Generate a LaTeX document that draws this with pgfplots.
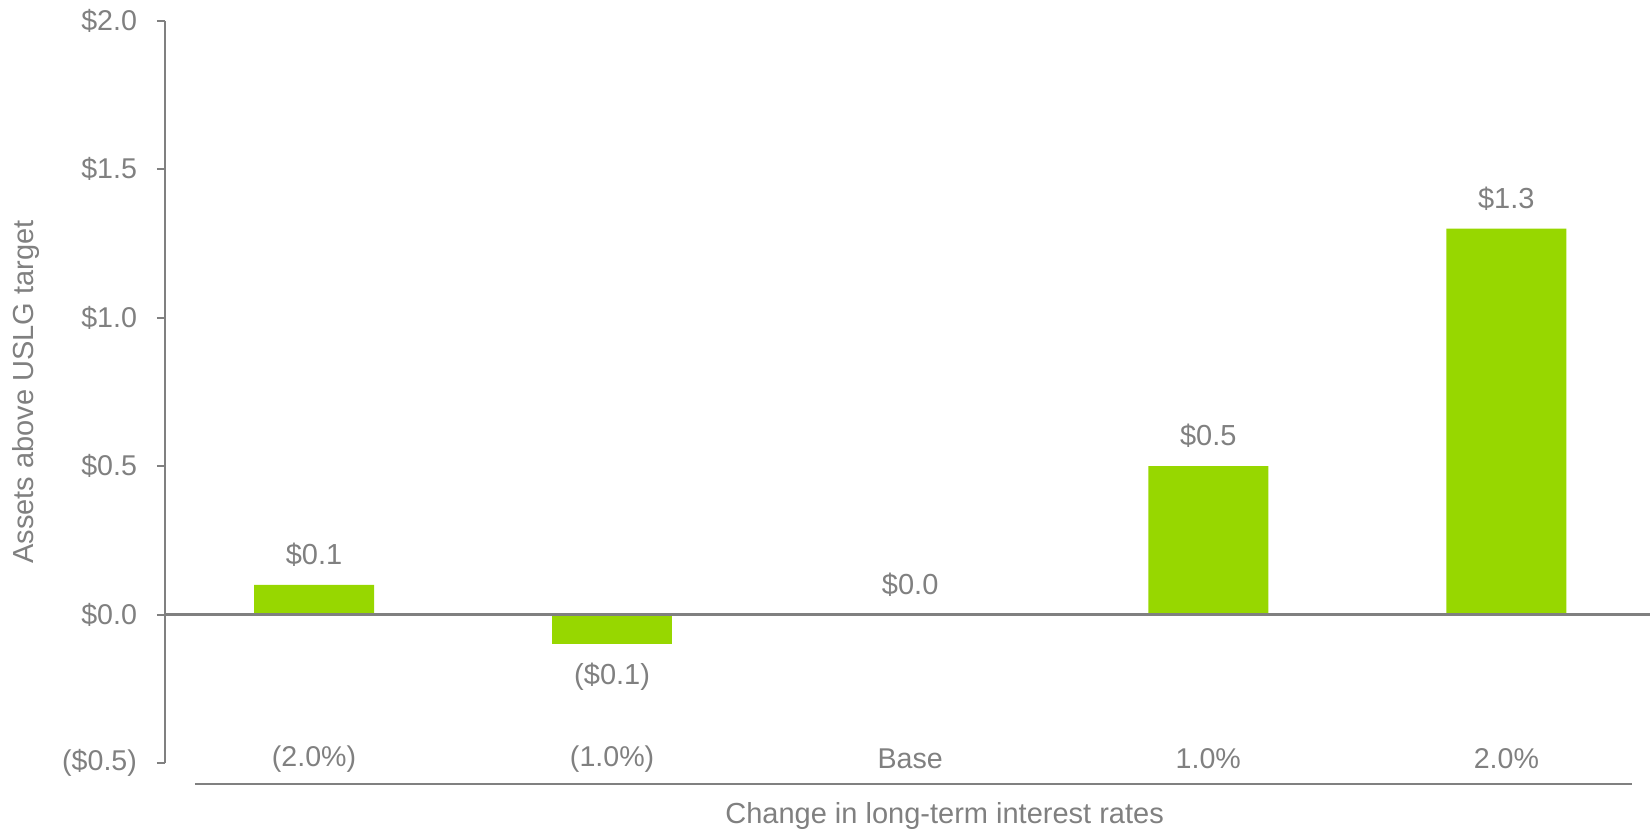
\documentclass[border=0pt]{standalone}
\usepackage{pgfplots}
\pgfplotsset{compat=1.18}
\usepackage{fontspec}
\setmainfont{Liberation Sans}
\definecolor{bargreen}{HTML}{97D700}
\definecolor{txtgray}{HTML}{808080}
\begin{document}
\begin{tikzpicture}
\begin{axis}[
  scale only axis, width=742.5pt, height=371pt,
  anchor=south west, at={(0,0)},
  xmin=-0.5, xmax=4.482, ymin=-0.5, ymax=2,
  enlargelimits=false,
  axis lines*=left,
  x axis line style={draw=none},
  y axis line style={txtgray, line width=1pt, -},
  xtick style={draw=none},
  ytick style={txtgray, line width=1pt},
  tick align=outside,
  major tick length=4pt,
  xtick={0,1,2,3,4},
  xticklabels={(2.0\%),(1.0\%),Base,1.0\%,2.0\%},
  ytick={-0.5,0,0.5,1,1.5,2},
  yticklabels={(\$0.5),\$0.0,\$0.5,\$1.0,\$1.5,\$2.0},
  tick label style={font=\fontsize{14.3pt}{16pt}\selectfont, text=txtgray},
  xticklabel style={anchor=center, yshift=6pt},
  yticklabel style={anchor=east, xshift=-6.5pt},
  xlabel={Change in long-term interest rates},
  ylabel={Assets above USLG target},
  label style={font=\fontsize{14.5pt}{16pt}\selectfont, text=txtgray},
  xlabel style={at={(axis description cs:0.525,-0.0714)}, anchor=center},
  ylabel style={at={(axis description cs:-0.0936,0.5)}, anchor=center},
  ybar, bar width=60pt, bar shift=0pt,
  nodes near coords, point meta=explicit symbolic,
  every node near coord/.append style={font=\fontsize{14.5pt}{16pt}\selectfont, text=txtgray, inner ysep=9pt},
  clip=false,
]
\addplot[fill=bargreen, draw=none, nodes near coords style={anchor=south}] coordinates {
  (0,0.1) [\$0.1]
  (2,0) [\$0.0]
  (3,0.5) [\$0.5]
  (4,1.3) [\$1.3]
};
\addplot[fill=bargreen, draw=none, nodes near coords style={anchor=north}] coordinates {
  (1,-0.1) [(\$0.1)]
};
\draw[txtgray, line width=1.3pt] (axis cs:-0.5,0) -- (axis cs:4.482,0);
\draw[txtgray, line width=1.3pt] (axis cs:-0.4,-0.571) -- (axis cs:4.423,-0.571);
\end{axis}
\pgfresetboundingbox
\path[use as bounding box] (-82.5pt,-35pt) rectangle (742.5pt,381.5pt);
\end{tikzpicture}
\end{document}
